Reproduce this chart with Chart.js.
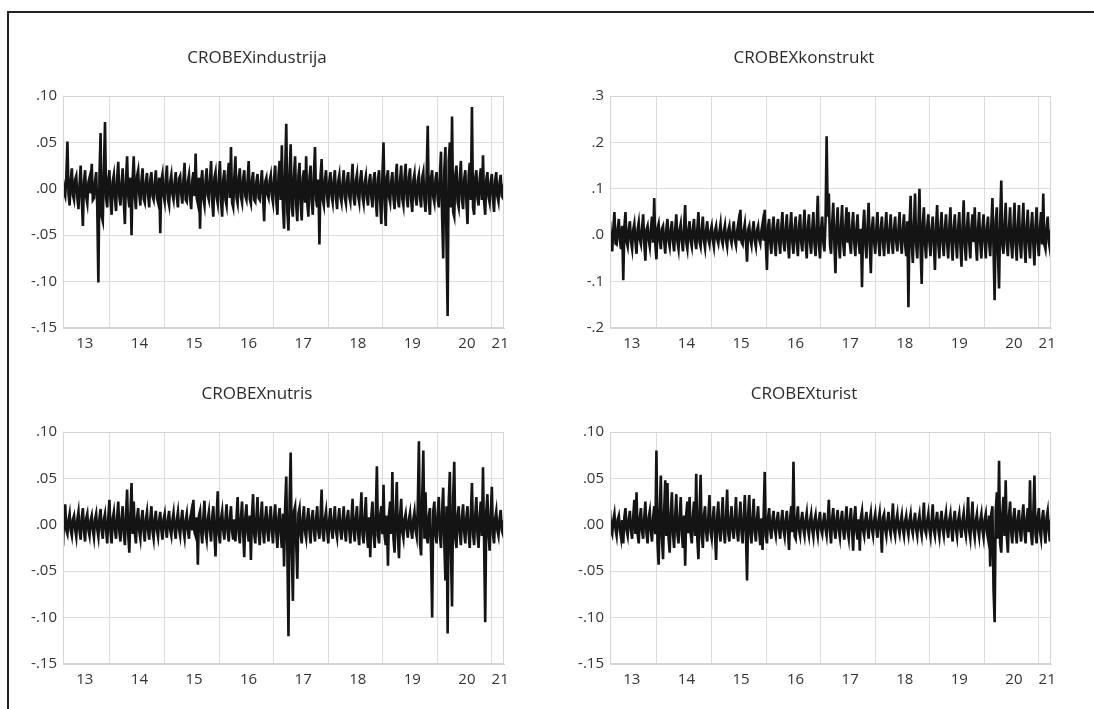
<!DOCTYPE html>
<html>
<head>
<meta charset="utf-8">
<script src="https://cdn.jsdelivr.net/npm/chart.js@4.4.1/dist/chart.umd.min.js"></script>
<style>
body { margin: 0; background: #fff; width: 1094px; height: 709px; overflow: hidden; position: relative; }
#frame { position: absolute; left: 7px; top: 11px; width: 1100px; height: 710px; border-left: 2px solid #222; border-top: 2px solid #222; }
canvas { position: absolute; }
</style>
</head>
<body>
<div id="frame"></div>
<canvas id="c1" width="547" height="320" style="left:10px;top:40px"></canvas>
<canvas id="c2" width="547" height="320" style="left:557px;top:40px"></canvas>
<canvas id="c3" width="547" height="320" style="left:10px;top:376px"></canvas>
<canvas id="c4" width="547" height="320" style="left:557px;top:376px"></canvas>
<script>
// x axis: year labels sit mid-year, grid lines on 1 Jan
const yearLabels = ['13', '14', '15', '16', '17', '18', '19', '20', '21'];
const labelPos = [2013.54, 2014.54, 2015.54, 2016.54, 2017.54, 2018.54, 2019.54, 2020.54, 2021.15];
const gridYears = [2014, 2015, 2016, 2017, 2018, 2019, 2020, 2021];
const startYear = 2013.14;
const endYear = 2021.22;

const industrija = [
  .01,-.004,-.008,.012,.051,-.006,-.018,.009,.022,-.007,-.012,.01,.014,-.01,-.022,.006,.025,-.012,-.04,.008,
  .02,-.009,-.016,.007,.012,-.005,.027,-.012,-.01,.008,.018,-.02,-.101,.015,.06,-.03,-.035,.02,.072,-.01,
  -.02,.01,.02,-.012,-.028,.008,.015,-.01,-.024,.012,.029,-.009,-.018,.006,.022,-.014,-.038,.01,.035,-.008,
  -.02,.012,-.05,.01,.035,-.008,-.022,.014,.02,-.006,-.018,.009,.022,-.011,-.015,.008,.017,-.007,-.02,.01,
  .018,-.008,-.012,.006,.02,-.01,-.015,.012,-.048,.009,.016,-.007,-.014,.01,.025,-.012,-.018,.008,.015,-.006,
  -.012,.007,.018,-.009,-.02,.011,.014,-.006,-.016,.01,.028,-.012,-.014,.008,.015,-.01,-.022,.009,.018,-.008,
  .038,-.01,-.016,.012,-.043,.008,.02,-.011,-.018,.009,.022,-.007,-.012,.01,.03,-.014,-.03,.012,.018,-.009,
  -.016,.011,.03,-.013,-.03,.01,.02,-.012,-.018,.014,.028,-.01,.045,-.015,-.02,.012,.035,-.01,-.016,.012,
  .022,-.009,-.015,.011,.02,-.008,-.012,.009,.03,-.011,-.016,.01,.018,-.012,-.014,.008,.016,-.01,-.012,.007,
  .02,-.01,-.035,.008,.012,-.006,-.01,.009,.015,-.008,-.015,.012,.025,-.014,-.028,.015,.03,-.012,.047,-.02,
  -.043,.02,.07,-.025,-.045,.018,.048,-.02,-.03,.015,.035,-.018,-.035,.014,.028,-.016,-.034,.012,.02,-.015,
  .035,-.015,-.03,.012,.025,-.014,-.028,.016,.045,-.012,-.02,.01,-.06,.014,.032,-.012,-.018,.01,.02,-.009,
  -.02,.009,.018,-.008,-.015,.01,.02,-.011,-.022,.008,.015,-.009,-.015,.007,.02,-.01,-.016,.009,.018,-.008,
  -.014,.008,.027,-.01,-.018,.009,.016,-.008,-.015,.011,.02,-.009,-.016,.007,.014,-.01,-.018,.008,.016,-.009,
  -.02,.01,.018,-.012,-.03,.011,.02,-.014,-.038,.015,.05,-.016,-.04,.012,.02,-.009,-.015,.008,.018,-.01,
  -.022,.011,.027,-.012,-.02,.01,.025,-.011,-.018,.012,.027,-.01,-.02,.013,.022,-.012,-.025,.009,.016,-.01,
  -.018,.009,.015,-.01,-.02,.012,.018,-.012,-.025,.014,.068,-.015,-.028,.012,.02,-.009,-.015,.01,.018,-.011,
  -.02,.015,.04,-.03,-.075,.02,.045,-.06,-.137,.03,.05,-.02,.078,-.025,-.03,.015,.025,-.014,-.02,.012,
  .03,-.012,-.022,.011,.02,-.015,-.038,.014,.028,-.012,.088,-.02,-.028,.012,.02,-.01,-.018,.011,.022,-.012,
  .036,-.014,-.028,.01,.018,-.009,-.015,.008,.016,-.01,-.025,.009,.018,-.008,-.014,.007,.015,-.008,-.01,.006
];
const konstrukt = [
  .03,-.015,-.035,.012,.05,-.018,-.02,.014,.035,-.012,-.03,.02,-.097,.018,.05,-.015,-.025,.012,.03,-.014,
  -.03,.012,.025,-.014,-.04,.013,.028,-.01,-.02,.015,.045,-.018,-.055,.012,.02,-.01,-.025,.014,.04,-.016,
  .08,-.02,-.052,.015,.025,-.012,-.03,.014,.02,-.013,-.04,.015,.035,-.012,-.025,.012,.03,-.014,-.035,.013,
  .045,-.014,-.03,.012,.025,-.013,-.035,.015,.065,-.016,-.03,.012,.03,-.013,-.025,.014,.035,-.012,-.03,.013,
  .05,-.015,-.025,.012,.04,-.013,-.028,.011,.03,-.01,-.02,.009,.02,-.01,-.025,.01,.02,-.009,-.018,.008,
  .025,-.01,-.02,.009,.022,-.011,-.025,.01,.02,-.008,-.018,.01,.03,-.011,-.022,.009,.025,-.012,.055,-.015,
  -.02,.01,.025,-.015,-.057,.012,.02,-.01,-.022,.011,.03,-.012,-.025,.01,.02,-.009,-.018,.01,.025,-.012,
  .055,-.02,-.075,.018,.035,-.016,-.04,.015,.04,-.018,-.045,.016,.035,-.015,-.04,.018,.05,-.016,-.035,.015,
  .045,-.018,-.05,.017,.05,-.016,-.04,.015,.04,-.017,-.045,.018,.045,-.015,-.035,.016,.055,-.018,-.05,.017,
  .045,-.016,-.04,.015,.05,-.018,-.045,.02,.085,-.02,-.05,.016,.04,-.015,-.035,.03,.213,.04,.09,-.02,
  -.04,.025,.07,-.02,-.082,.02,.06,-.018,-.05,.02,.065,-.018,-.045,.02,.06,-.016,.05,-.018,-.04,.017,
  .05,-.016,-.045,.015,.045,-.016,-.04,.014,-.112,.018,.055,-.017,-.05,.018,.07,-.02,-.082,.016,.04,-.015,
  -.04,.015,.05,-.016,-.045,.014,.04,-.015,-.045,.016,.05,-.014,-.04,.015,.045,-.016,-.04,.014,.04,-.015,
  -.035,.014,.05,-.016,-.04,.015,.045,-.02,-.045,.03,-.155,.025,.085,-.02,-.06,.022,.09,-.02,-.05,.018,
  .1,-.03,-.105,.025,.06,-.02,-.05,.018,.045,-.016,-.045,.015,.04,-.02,-.075,.02,.065,-.018,-.05,.017,
  .05,-.016,-.045,.015,.045,-.017,-.05,.018,.06,-.018,-.055,.016,.045,-.017,-.05,.016,.05,-.02,-.068,.02,
  .075,-.02,-.055,.018,.05,-.016,-.05,.017,.045,-.015,.06,-.018,-.055,.016,.05,-.017,-.05,.016,.045,-.015,
  -.05,.016,.04,-.016,-.045,.02,.08,-.03,-.14,.03,.06,-.04,-.115,.03,.118,-.02,-.04,.02,.07,-.02,
  -.045,.016,.06,-.018,-.05,.017,.07,-.02,-.055,.018,.065,-.019,-.05,.018,.07,-.02,-.06,.018,.055,-.017,
  -.05,.016,.05,-.018,-.065,.02,.06,-.016,-.045,.015,.05,-.02,.09,-.02,-.03,.014,.04,-.015,-.03,.012
];
const nutris = [
  -.023,.01,.022,-.006,-.01,.005,.012,-.006,-.012,.006,.01,-.005,-.013,.006,.014,-.007,-.016,.008,.018,-.007,
  -.018,.007,.012,-.006,-.012,.005,.01,-.006,-.014,.006,.012,-.005,-.013,.007,.017,-.006,-.015,.006,.012,-.006,
  -.02,.008,.027,-.008,-.02,.007,.014,-.006,-.015,.008,.025,-.008,-.018,.007,.02,-.009,-.022,.01,.038,-.01,
  -.03,.012,.045,-.01,.025,-.009,-.02,.008,.018,-.007,-.015,.006,.016,-.007,-.018,.006,.014,-.006,-.016,.007,
  .02,-.007,-.015,.006,.015,-.006,-.013,.005,.014,-.006,-.016,.006,.012,-.005,-.014,.006,.015,-.006,-.012,.005,
  .013,-.006,-.015,.006,.014,-.005,-.012,.006,.016,-.006,-.014,.005,.012,-.006,-.015,.006,.013,-.006,.027,-.008,
  -.012,.008,-.043,.01,.015,-.007,-.02,.008,.026,-.008,-.016,.006,.014,-.007,-.018,.008,.02,-.01,-.034,.009,
  .036,-.01,-.02,.007,.015,-.006,-.016,.007,.022,-.008,-.018,.007,.02,-.007,-.016,.006,-.018,.008,.03,-.009,
  -.02,.008,.025,-.009,-.035,.009,.022,-.008,-.018,.01,-.038,.012,.033,-.01,-.02,.008,.03,-.009,-.022,.008,
  .025,-.008,-.02,.007,.02,-.008,-.018,.008,.02,-.007,-.02,.008,.022,-.009,-.025,.008,.018,-.01,-.025,.012,
  -.045,.02,.052,-.03,-.12,.025,.078,-.03,-.082,.015,.02,-.02,-.058,.012,.018,-.01,-.02,.008,.02,-.008,
  -.015,.006,.018,-.007,-.02,.007,.016,-.006,-.018,.007,.02,-.007,-.015,.008,.038,-.009,-.018,.007,.015,-.006,
  -.02,.007,.018,-.006,-.015,.007,.02,-.007,-.014,.006,.018,-.007,-.016,.006,.02,-.008,-.018,.007,.016,-.006,
  -.02,.008,.028,-.008,-.018,.008,.02,-.009,-.022,.009,.035,-.01,-.02,.009,.03,-.01,-.025,.008,-.035,.01,
  .025,-.01,-.025,.012,.063,-.012,-.02,.01,.02,-.01,.043,-.012,-.022,.01,-.044,.012,.025,-.01,.057,-.015,
  -.03,.012,.046,-.012,-.036,.01,.028,-.008,-.015,.006,.012,-.005,-.014,.006,.013,-.006,-.015,.006,.014,-.006,
  -.013,.02,.09,-.02,-.033,.03,.08,-.015,.035,-.012,-.02,.01,.018,-.03,-.1,.015,.025,-.01,-.02,.012,
  .03,-.012,-.025,.015,.04,-.02,-.06,.02,-.117,.025,.057,-.03,-.088,.03,.068,-.015,-.025,.01,.02,-.009,
  -.022,.009,.022,-.008,-.02,.009,.02,-.009,-.025,.01,.045,-.01,-.022,.01,.03,-.01,-.025,.01,.025,-.012,
  .062,-.02,-.105,.015,.033,-.01,-.028,.012,.041,-.01,-.02,.007,.015,-.006,-.012,.006,.016,-.006,-.01,.005
];
const turist = [
  .016,-.006,-.01,.005,.012,-.005,-.012,.006,.01,-.006,-.014,.005,-.02,.008,.018,-.006,-.012,.006,.015,-.006,
  -.015,.008,.027,-.01,.035,-.01,-.02,.008,.018,-.007,-.015,.008,.025,-.009,-.02,.008,.015,-.007,-.018,.008,
  .02,-.01,.08,-.02,-.043,.015,.053,-.015,-.037,.015,.048,-.012,.045,-.015,-.03,.012,.035,-.01,-.025,.01,
  .033,-.01,-.02,.009,.03,-.01,-.025,.01,-.044,.012,.025,-.009,.03,-.01,-.02,.009,.025,-.012,.055,-.015,
  -.037,.015,.054,-.012,-.025,.01,.02,-.008,-.018,.009,.032,-.008,-.015,.007,.02,-.01,-.038,.01,.025,-.008,
  -.018,.008,.03,-.008,-.02,.009,.038,-.009,-.018,.007,.02,-.007,-.015,.008,.03,-.008,-.018,.007,.025,-.008,
  -.02,.009,.032,-.01,-.06,.012,.032,-.009,-.02,.008,.028,-.008,-.018,.007,.02,-.008,-.022,.007,-.027,.01,
  .057,-.012,-.02,.007,.018,-.006,-.015,.006,.015,-.005,-.012,.005,.014,-.006,-.015,.005,.016,-.006,-.013,.005,
  .015,-.007,-.027,.008,.02,-.008,.068,-.012,-.015,.006,.02,-.006,-.012,.005,.014,-.005,-.012,.005,.013,-.005,
  -.012,.005,.012,-.005,-.013,.005,.011,-.004,-.012,.005,.014,-.005,-.01,.004,.013,-.005,-.012,.005,.027,-.007,
  -.02,.007,.018,-.006,-.015,.006,.016,-.006,-.014,.006,.015,-.006,-.016,.006,.02,-.007,-.015,.006,.018,-.007,
  -.028,.008,.02,-.007,-.016,.006,-.028,.008,.015,-.006,-.012,.005,.014,-.005,-.015,.005,.013,-.005,-.012,.005,
  .012,-.005,-.014,.005,.013,-.006,-.03,.008,.012,-.005,-.012,.004,.014,-.005,-.011,.005,.023,-.006,-.012,.005,
  .012,-.004,-.01,.004,.011,-.005,-.012,.004,.01,-.004,-.011,.005,.012,-.004,-.01,.004,.013,-.005,-.012,.004,
  .011,-.005,-.012,.005,.024,-.006,-.01,.004,.012,-.005,-.013,.005,.022,-.006,-.012,.005,.014,-.005,-.013,.005,
  .015,-.005,-.012,.005,.013,-.005,-.014,.005,.012,-.006,-.018,.006,.015,-.005,-.013,.005,.012,-.005,-.014,.005,
  .013,-.005,-.012,.006,.03,-.007,-.015,.007,.025,-.006,-.014,.005,.012,-.005,-.013,.005,.012,-.006,-.014,.006,
  .012,-.008,-.015,.01,-.045,.012,.02,-.07,-.105,.015,.035,-.015,.069,-.02,-.03,.012,.03,-.012,.048,-.012,
  -.03,.01,.025,-.008,-.02,.008,.018,-.008,-.02,.007,.016,-.007,-.018,.008,.022,-.008,-.02,.007,.018,-.008,
  .048,-.01,-.022,.012,.053,-.01,-.02,.008,.018,-.007,-.015,.007,.016,-.007,-.02,.008,.015,-.007,-.018,.006
];

const fontFamily = "'Open Sans', 'DejaVu Sans', sans-serif";

const plotBox = {
    id: 'plotBox',
    afterDraw(chart) {
        const a = chart.chartArea, ctx = chart.ctx;
        ctx.save();
        ctx.strokeStyle = '#d4d4d4';
        ctx.lineWidth = 1;
        ctx.strokeRect(a.left + 0.5, a.top + 0.5, a.right - a.left - 1, a.bottom - a.top - 1);
        ctx.restore();
    }
};

function makeChart(id, title, values, yMin, yMax, yStep, digits) {
    const step = (endYear - startYear) / (values.length - 1);
    const points = values.map((v, i) => ({ x: startYear + i * step, y: v }));
    return new Chart(document.getElementById(id), {
        type: 'line',
        data: {
            datasets: [{
                data: points,
                borderColor: '#141414',
                borderWidth: 2.6,
                borderJoinStyle: 'miter',
                pointRadius: 0,
                tension: 0
            }]
        },
        options: {
            responsive: false,
            animation: false,
            layout: { padding: { left: 0, right: 53, bottom: 0 } },
            plugins: {
                legend: { display: false },
                tooltip: { enabled: false },
                title: {
                    display: true,
                    text: title,
                    color: '#2a2a2a',
                    font: { family: fontFamily, size: 17, weight: 'normal' },
                    padding: { top: 8, bottom: 27.6 }
                }
            },
            scales: {
                x: {
                    type: 'linear',
                    min: startYear,
                    max: endYear,
                    afterBuildTicks: axis => {
                        const t = labelPos.map(v => ({ value: v })).concat(gridYears.map(v => ({ value: v })));
                        axis.ticks = t.sort((a, b) => a.value - b.value);
                    },
                    afterFit: axis => { axis.height = 32; },
                    grid: {
                        drawTicks: false,
                        color: ctx => (ctx.tick && Number.isInteger(ctx.tick.value)) ? '#dcdcdc' : 'rgba(0,0,0,0)'
                    },
                    border: { color: '#d4d4d4' },
                    ticks: {
                        autoSkip: false,
                        maxRotation: 0,
                        padding: 7,
                        color: '#333',
                        font: { family: fontFamily, size: 15 },
                        callback: v => {
                            const k = labelPos.indexOf(v);
                            return k >= 0 ? yearLabels[k] : '';
                        }
                    }
                },
                y: {
                    min: yMin,
                    max: yMax,
                    afterFit: axis => { axis.width = 53; },
                    grid: { drawTicks: false, color: '#dcdcdc' },
                    border: { color: '#d4d4d4' },
                    ticks: {
                        stepSize: yStep,
                        padding: 6,
                        color: '#333',
                        font: { family: fontFamily, size: 15 },
                        callback: v => Number(v).toFixed(digits).replace(/^(-?)0\./, '$1.')
                    }
                }
            }
        },
        plugins: [plotBox]
    });
}

makeChart('c1', 'CROBEXindustrija', industrija, -0.15, 0.10, 0.05, 2);
makeChart('c2', 'CROBEXkonstrukt', konstrukt, -0.2, 0.3, 0.1, 1);
makeChart('c3', 'CROBEXnutris', nutris, -0.15, 0.10, 0.05, 2);
makeChart('c4', 'CROBEXturist', turist, -0.15, 0.10, 0.05, 2);
</script>
</body>
</html>
